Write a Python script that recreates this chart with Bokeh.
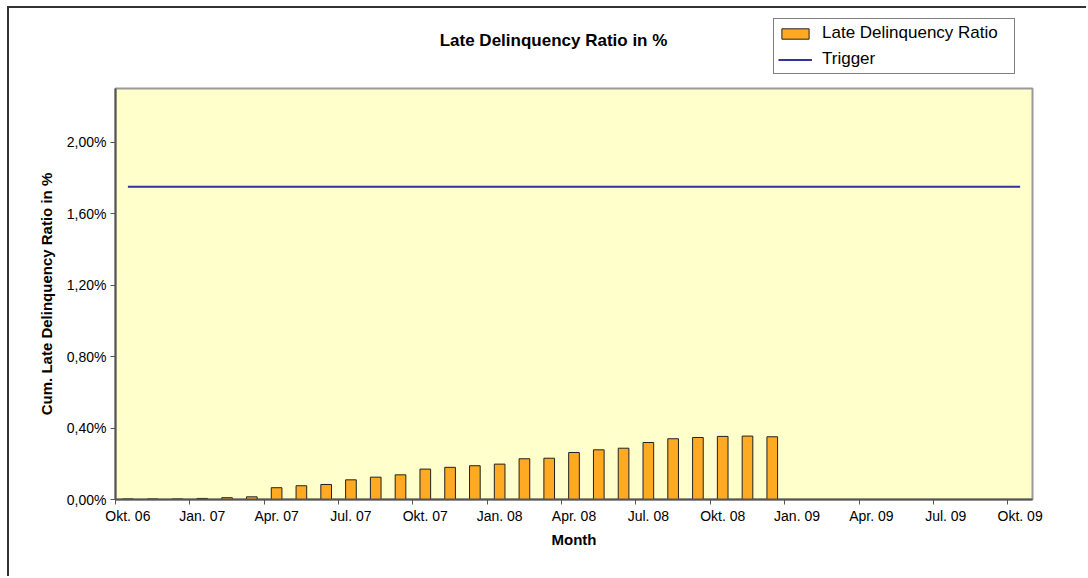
from bokeh.plotting import figure
from bokeh.layouts import column
from bokeh.models import (ColumnDataSource, FixedTicker, CustomJSTickFormatter,
                          Legend, LegendItem, Label, Range1d)
from bokeh.embed import file_html
from bokeh.resources import INLINE

# ---- data ----
months = ["Okt. 06", "Nov. 06", "Dez. 06",
          "Jan. 07", "Feb. 07", "Mrz. 07", "Apr. 07", "Mai. 07", "Jun. 07",
          "Jul. 07", "Aug. 07", "Sep. 07", "Okt. 07", "Nov. 07", "Dez. 07",
          "Jan. 08", "Feb. 08", "Mrz. 08", "Apr. 08", "Mai. 08", "Jun. 08",
          "Jul. 08", "Aug. 08", "Sep. 08", "Okt. 08", "Nov. 08", "Dez. 08",
          "Jan. 09", "Feb. 09", "Mrz. 09", "Apr. 09", "Mai. 09", "Jun. 09",
          "Jul. 09", "Aug. 09", "Sep. 09", "Okt. 09"]
late_delinquency = [0.003, 0.003, 0.003, 0.006, 0.010, 0.015, 0.066, 0.077, 0.084,
                    0.110, 0.125, 0.138, 0.170, 0.180, 0.189, 0.198, 0.228, 0.231,
                    0.263, 0.278, 0.287, 0.319, 0.340, 0.347, 0.353, 0.355, 0.351]
trigger = [1.75] * len(months)
y_ticks = [0.0, 0.4, 0.8, 1.2, 1.6, 2.0]
x_label_every = 3

FONT = "Liberation Sans"
BAR_FILL = "#FFAA22"
BAR_LINE = "#222222"
TRIG_COLOR = "#333399"

idx_all = list(range(len(months)))
idx_bar = list(range(len(late_delinquency)))

bar_src = ColumnDataSource(dict(x=idx_bar, top=late_delinquency))
trig_src = ColumnDataSource(dict(x=idx_all, y=trigger))

W = 1077

# ---------- header (title + legend) ----------
hdr = figure(width=W, height=79, output_backend="svg", toolbar_location=None,
             x_range=Range1d(0, 1), y_range=Range1d(0, 1),
             x_axis_type=None, y_axis_type=None,
             min_border_left=0, min_border_right=0, min_border_top=0, min_border_bottom=0)
hdr.outline_line_color = None
hdr.background_fill_color = "white"
hdr.border_fill_color = "white"
hdr.xgrid.visible = False
hdr.ygrid.visible = False

# legend proxies (kept outside the visible range of the header)
proxy_bar = hdr.vbar(x=[-10], top=[0], width=0.5, fill_color=BAR_FILL,
                     line_color=BAR_LINE, line_width=1)
proxy_line = hdr.line(x=[-10, -9], y=[0, 0], line_color=TRIG_COLOR, line_width=2)

title = Label(x=438, y=47, x_units="screen", y_units="screen",
              text="Late Delinquency Ratio in %", text_font=FONT,
              text_font_size="17px", text_font_style="bold", text_color="black",
              text_align="center", text_baseline="middle")
hdr.add_layout(title)

legend = Legend(items=[LegendItem(label="Late Delinquency Ratio", renderers=[proxy_bar]),
                       LegendItem(label="Trigger", renderers=[proxy_line])],
                location=(658, 13), orientation="vertical",
                border_line_color="black", border_line_width=1,
                background_fill_color="white", background_fill_alpha=1,
                label_text_font=FONT, label_text_font_size="17px",
                label_text_color="black",
                label_height=19, glyph_height=13, glyph_width=34,
                label_width=188, spacing=6, padding=4, margin=0, label_standoff=10)
hdr.add_layout(legend, "center")

# ---------- main chart ----------
p = figure(width=W, height=489, output_backend="svg", toolbar_location=None,
           x_range=Range1d(-0.5, len(months) - 0.5), y_range=Range1d(0, 2.3),
           min_border_left=106, min_border_right=54, min_border_top=1,
           min_border_bottom=77)

p.background_fill_color = "#FFFFCC"
p.border_fill_color = "white"
p.outline_line_color = "#999999"
p.outline_line_width = 2
p.xgrid.visible = False
p.ygrid.visible = False

bars = p.vbar(x="x", top="top", width=0.43, bottom=0, source=bar_src,
              fill_color=BAR_FILL, line_color=BAR_LINE, line_width=1)
line = p.line(x="x", y="y", source=trig_src, line_color=TRIG_COLOR, line_width=2)

# x axis
major = idx_all[::x_label_every]
minor = [i - 0.5 for i in major]
p.xaxis.ticker = FixedTicker(ticks=major, minor_ticks=minor)
p.xaxis.major_label_overrides = {i: months[i] for i in major}
p.xaxis.major_tick_out = 0
p.xaxis.major_tick_in = 0
p.xaxis.minor_tick_out = 5
p.xaxis.minor_tick_in = 0
p.xaxis.minor_tick_line_color = "#555555"
p.xaxis.axis_label = "Month"
p.xaxis.major_label_standoff = 3
p.xaxis.axis_label_standoff = 4

# y axis
p.yaxis.ticker = FixedTicker(ticks=y_ticks, minor_ticks=[])
p.yaxis.formatter = CustomJSTickFormatter(code="return tick.toFixed(2).replace('.', ',') + '%';")
p.yaxis.major_tick_out = 5
p.yaxis.major_tick_in = 0
p.yaxis.axis_label = "Cum. Late Delinquency Ratio in %"
p.yaxis.major_label_standoff = 4
p.yaxis.axis_label_standoff = 9

for ax in (p.xaxis, p.yaxis):
    ax.axis_line_color = "#555555"
    ax.axis_line_width = 2
    ax.major_tick_line_color = "#555555"
    ax.major_label_text_font = FONT
    ax.major_label_text_font_size = "14px"
    ax.major_label_text_color = "black"
    ax.axis_label_text_font = FONT
    ax.axis_label_text_font_size = "15px"
    ax.axis_label_text_font_style = "bold"
    ax.axis_label_text_color = "black"

layout = column(hdr, p, spacing=0, margin=(6, 0, 0, 7),
                styles={"border-left": "2px solid #333333", "border-top": "2px solid #333333"})

open("out.html", "w").write(file_html(layout, INLINE))
